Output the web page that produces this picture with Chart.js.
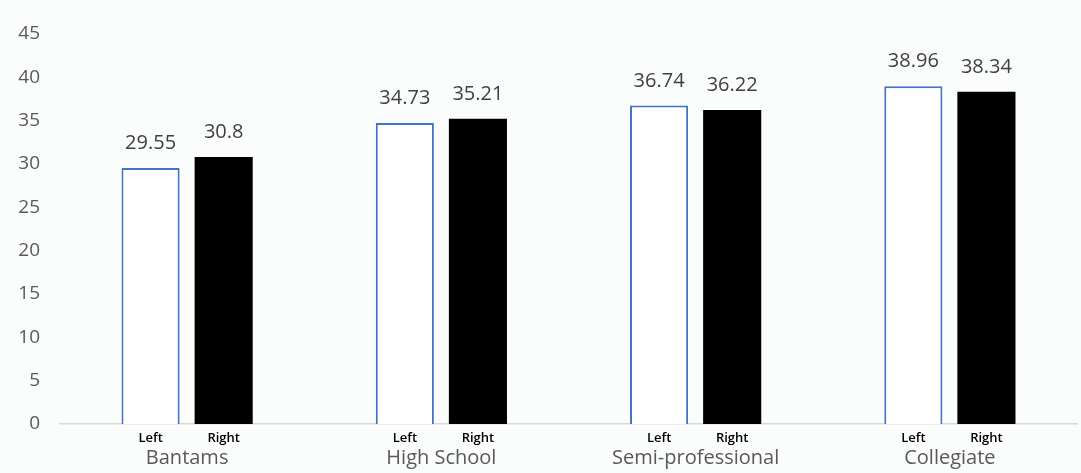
<!DOCTYPE html>
<html>
<head>
<meta charset="utf-8">
<script src="https://cdn.jsdelivr.net/npm/chart.js@4/dist/chart.umd.min.js"></script>
<style>
  html, body { margin: 0; padding: 0; background: #fbfcfc; }
  #wrap { width: 1081px; height: 473px; position: relative; }
</style>
</head>
<body>
<div id="wrap"><canvas id="c" width="1081" height="473"></canvas></div>
<script>
// Grip strength by level of play, left vs right side
const categories = ['Bantams', 'High School', 'Semi-professional', 'Collegiate'];
const seriesNames = ['Left', 'Right'];
const leftValues = [29.55, 34.73, 36.74, 38.96];
const rightValues = [30.8, 35.21, 36.22, 38.34];
const yMin = 0;
const yMax = 45;
const yStep = 5;

const FONT = '"Open Sans", "Noto Sans", sans-serif';

// Writes each bar's value above it and the series name underneath it
const barLabels = {
  id: 'barLabels',
  afterDatasetsDraw(chart) {
    const ctx = chart.ctx;
    const bottom = chart.scales.y.getPixelForValue(0);
    chart.data.datasets.forEach((ds, di) => {
      const meta = chart.getDatasetMeta(di);
      meta.data.forEach((bar, i) => {
        ctx.save();
        ctx.textAlign = 'center';
        ctx.textBaseline = 'alphabetic';
        ctx.fillStyle = '#404040';
        ctx.font = '20px ' + FONT;
        ctx.fillText(String(ds.data[i]), bar.x, bar.y - 19);
        ctx.fillStyle = '#000000';
        ctx.font = '600 13px ' + FONT;
        ctx.textBaseline = 'middle';
        ctx.fillText(ds.label, bar.x, bottom + 14);
        ctx.restore();
      });
    });
  }
};

new Chart(document.getElementById('c'), {
  type: 'bar',
  data: {
    labels: categories,
    datasets: [
      {
        label: seriesNames[0],
        data: leftValues,
        backgroundColor: '#ffffff',
        borderColor: '#4472c4',
        borderWidth: 2,
        categoryPercentage: 0.575,
        barPercentage: 0.795
      },
      {
        label: seriesNames[1],
        data: rightValues,
        backgroundColor: '#000000',
        borderWidth: 0,
        categoryPercentage: 0.575,
        barPercentage: 0.795
      }
    ]
  },
  options: {
    responsive: false,
    animation: false,
    layout: { padding: { top: 34, left: 10, right: 4, bottom: 4 } },
    plugins: {
      legend: { display: false },
      tooltip: { enabled: false }
    },
    scales: {
      x: {
        grid: { display: false, drawTicks: false },
        border: { display: true, color: '#d9d9d9', width: 1.5 },
        afterFit(scale) { scale.height = 45; },
        ticks: {
          color: '#595959',
          font: { family: FONT, size: 20 },
          padding: 22,
          maxRotation: 0
        }
      },
      y: {
        min: yMin,
        max: yMax,
        grid: { display: false, drawTicks: false },
        border: { display: false },
        afterFit(scale) { scale.width = 50; },
        ticks: {
          stepSize: yStep,
          color: '#595959',
          font: { family: FONT, size: 19 },
          padding: 20
        }
      }
    }
  },
  plugins: [barLabels]
});
</script>
</body>
</html>
